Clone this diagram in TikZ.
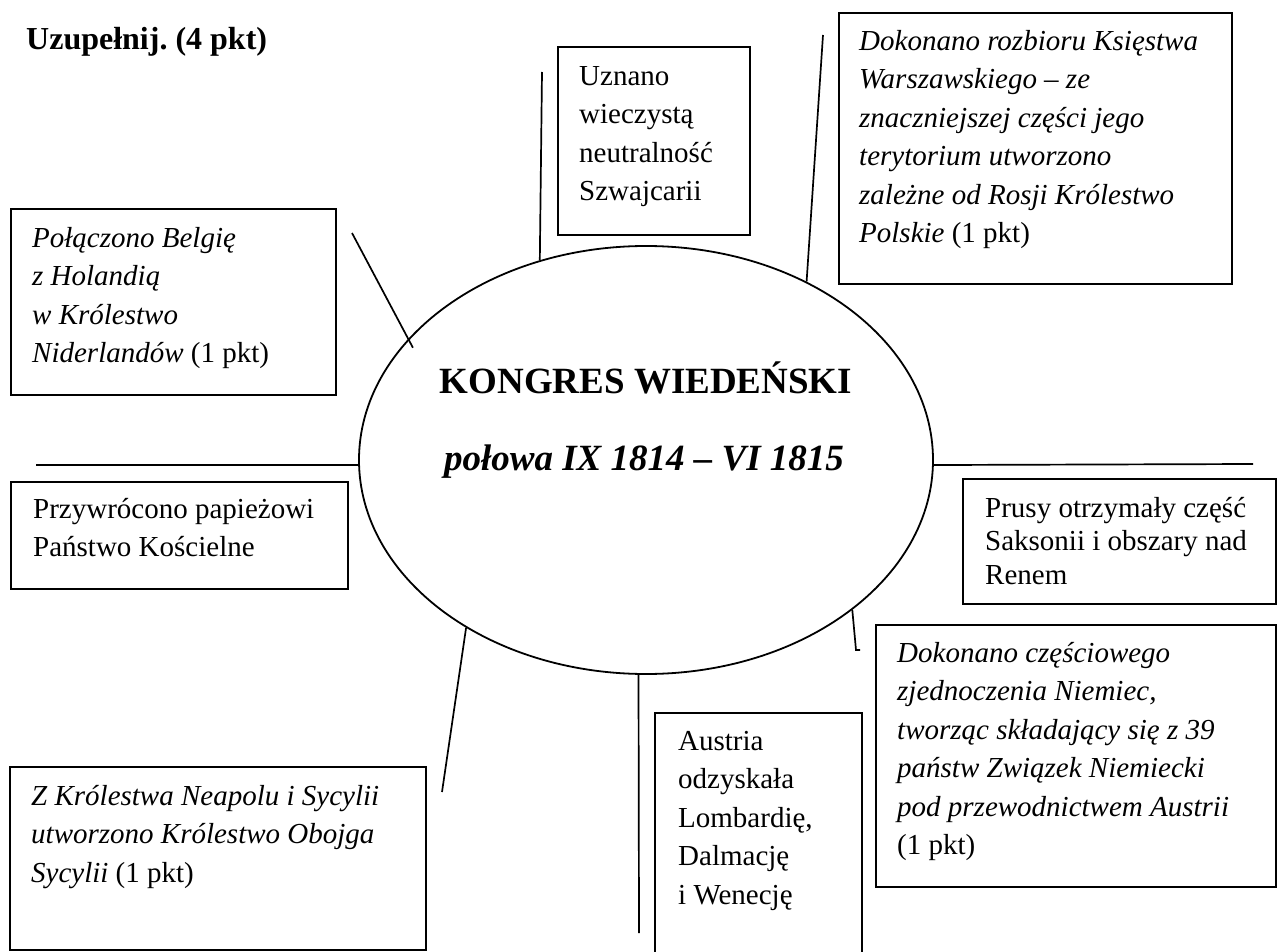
\documentclass[tikz,border=0pt]{standalone}
\usepackage{fontspec}
\setmainfont{Liberation Serif}
\usetikzlibrary{shapes.geometric,calc}
\frenchspacing

\begin{document}
\begin{tikzpicture}[x=1pt, y=-1pt,
    box/.style={draw=black, line width=1.8pt},
    spoke/.style={draw=black, line width=1.7pt},
    txt/.style={anchor=north west, inner sep=0pt, align=left, font=\fontsize{29}{38.5}\selectfont}]

    % Page size
    \useasboundingbox (0,0) rectangle (1278,952);

    % Title
    \node[anchor=base west, inner sep=0pt, font=\fontsize{32}{38}\selectfont\bfseries] (title) at (26,50) {Uzupełnij. (4 pkt)};

    % Central ellipse
    \node[ellipse, draw=black, line width=1.8pt, minimum width=574, minimum height=428, inner sep=0pt] (kongres) at (646,460) {};
    \node[anchor=base, inner sep=0pt, font=\fontsize{37}{44}\selectfont\bfseries] (nazwa) at (646,393) {KONGRES WIEDEŃSKI};
    \node[anchor=base, inner sep=0pt, font=\fontsize{37}{44}\selectfont\bfseries\itshape] (daty) at (644,470) {połowa IX 1814 – VI 1815};

    % Boxes
    \draw[box] (558,47) rectangle (750,235);
    \draw[box] (839,13) rectangle (1232,284);
    \draw[box] (11,209) rectangle (336,395);
    \draw[box] (11,482) rectangle (348,589);
    \draw[box] (963,479) rectangle (1276,604);
    \draw[box] (876,625) rectangle (1276,887);
    \draw[box] (655,713) rectangle (862,962);
    \draw[box] (10,767) rectangle (426,950);

    % Box texts
    \node[txt] (szwajcaria) at (579,58) {\strut Uznano\\wieczystą\\neutralność\\Szwajcarii};
    \node[txt] (ksiestwo) at (859,23) {\strut\itshape Dokonano rozbioru Księstwa\\\itshape Warszawskiego – ze\\\itshape znaczniejszej części jego\\\itshape terytorium utworzono\\\itshape zależne od Rosji Królestwo\\\textit{Polskie} (1 pkt)};
    \node[txt] (belgia) at (32,220) {\strut\itshape Połączono Belgię\\\itshape z Holandią\\\itshape w Królestwo\\\textit{Niderlandów} (1 pkt)};
    \node[txt] (papiez) at (33,491) {\strut Przywrócono papieżowi\\Państwo Kościelne};
    \node[txt, font=\fontsize{29}{33.5}\selectfont] (prusy) at (985,493.5) {\strut Prusy otrzymały część\\Saksonii i obszary nad\\Renem};
    \node[txt] (niemcy) at (897,635) {\strut\itshape Dokonano częściowego\\\itshape zjednoczenia Niemiec,\\\itshape tworząc składający się z 39\\\itshape państw Związek Niemiecki\\\itshape pod przewodnictwem Austrii\\(1 pkt)};
    \node[txt] (austria) at (678,723) {\strut Austria\\odzyskała\\Lombardię,\\Dalmację\\i Wenecję};
    \node[txt] (sycylia) at (31,778) {\strut\itshape Z Królestwa Neapolu i Sycylii\\\itshape utworzono Królestwo Obojga\\\textit{Sycylii} (1 pkt)};

    % Free ends of the spokes
    \coordinate (szwajcaria-end) at (542,72);
    \coordinate (ksiestwo-end) at (823,35);
    \coordinate (belgia-end) at (352,233);
    \coordinate (left-end) at (36,465);
    \coordinate (right-end) at (1253,464);
    \coordinate (niemcy-end) at (856,650);
    \coordinate (austria-end) at (639,933);
    \coordinate (sycylia-end) at (442,792);

    % Spokes
    \draw[spoke] (kongres.118) -- (szwajcaria-end);
    \draw[spoke] (kongres.48) -- (ksiestwo-end);
    \draw[spoke, shorten >=-10pt] (belgia-end) -- (kongres.153);
    \draw[spoke] (kongres.181) -- (left-end);
    \draw[spoke] (kongres.-1) -- (right-end);
    \draw[spoke] (kongres.-36) -- (niemcy-end) -- ++(4,0);
    \draw[spoke] (kongres.268) -- (austria-end);
    \draw[spoke] (kongres.223) -- (sycylia-end);
\end{tikzpicture}
\end{document}
